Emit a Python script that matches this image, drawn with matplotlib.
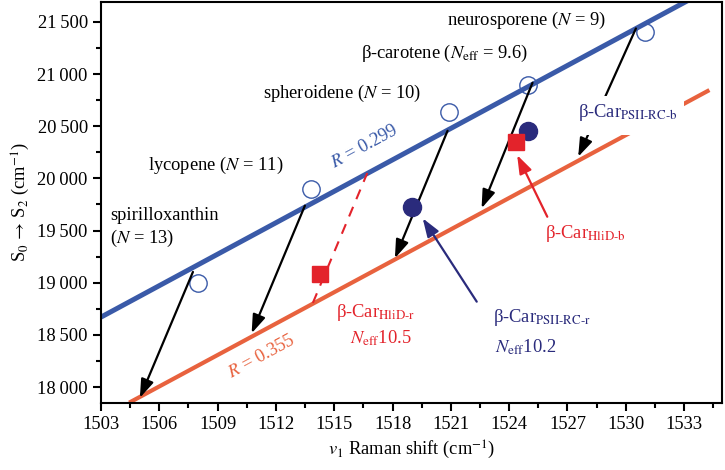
import matplotlib
matplotlib.use("Agg")
import matplotlib.pyplot as plt
from matplotlib.ticker import MultipleLocator, FuncFormatter
from matplotlib.patches import Rectangle

plt.rcParams['font.family'] = ['Liberation Serif', 'DejaVu Serif']
plt.rcParams['mathtext.fontset'] = 'stix'

# ---- data ----
open_x = [1507.99, 1513.79, 1520.92, 1524.98, 1530.98]
open_y = [18996, 19895, 20638, 20894, 21404]
navy_x = [1518.98, 1524.98]
navy_y = [19722, 20453]
sq_x = [1514.27, 1524.35]
sq_y = [19080, 20351]
blue_fit_x = [1503.0, 1533.3]
blue_fit_y = [18670, 21715]
orange_fit_x = [1504.45, 1534.3]
orange_fit_y = [17850, 20846]
dash_x = [1513.9, 1516.7]
dash_y = [18806, 20051]
arrow_tail_x = [1507.73, 1513.49, 1520.83, 1525.2, 1530.52]
arrow_tail_y = [19103, 19738, 20456, 20916, 21437]
arrow_tip_x = [1505.0, 1510.75, 1518.12, 1522.58, 1527.55]
arrow_tip_y = [17896, 18515, 19234, 19713, 20207]
xticks = [1503, 1506, 1509, 1512, 1515, 1518, 1521, 1524, 1527, 1530, 1533]
yticks = [18000, 18500, 19000, 19500, 20000, 20500, 21000, 21500]

BLUE = '#3a5aa8'
ORANGE = '#e8623e'
RED = '#e3232b'
NAVY = '#2a2b7c'

fig = plt.figure(figsize=(7.25, 4.7), dpi=100)
ax = fig.add_axes([0.1393, 0.1426, 0.8566, 0.8531])
ax.set_xlim(1503, 1534.95)
ax.set_ylim(17847, 21690)

ax.plot(blue_fit_x, blue_fit_y, color=BLUE, lw=3.6, solid_capstyle='butt', zorder=2)
ax.plot(orange_fit_x, orange_fit_y, color=ORANGE, lw=3.0, solid_capstyle='butt', zorder=2)
ax.plot(dash_x, dash_y, color=RED, lw=1.5, ls=(0, (5, 4)), zorder=2)

ax.plot(open_x, open_y, 'o', ms=12.5, mfc='none', mec=BLUE, mew=1.0, zorder=3)
ax.plot(navy_x, navy_y, 'o', ms=13, color=NAVY, zorder=4)
ax.plot(sq_x, sq_y, 's', ms=11, color=RED, zorder=4)

astyle = '-|>,head_length=0.8,head_width=0.28'
for tx, ty, hx, hy in zip(arrow_tail_x, arrow_tail_y, arrow_tip_x, arrow_tip_y):
    ax.annotate('', xy=(hx, hy), xytext=(tx, ty),
                arrowprops=dict(arrowstyle=astyle, color='black', lw=1.6,
                                shrinkA=0, shrinkB=0, mutation_scale=14), zorder=3)

# coloured arrows
ax.annotate('', xy=(1519.55, 19617), xytext=(1522.33, 18818),
            arrowprops=dict(arrowstyle=astyle, color=NAVY, lw=1.6,
                            shrinkA=0, shrinkB=0, mutation_scale=14), zorder=3)
ax.annotate('', xy=(1524.41, 20223), xytext=(1525.96, 19632),
            arrowprops=dict(arrowstyle=astyle, color=RED, lw=1.6,
                            shrinkA=0, shrinkB=0, mutation_scale=14), zorder=3)

fs = 13.3
ax.text(1520.8, 21516, r'neurosporene ($N$ = 9)', fontsize=fs, va='center', ha='left')
ax.text(1516.37, 21200, r'β-carotene ($N_{\mathrm{eff}}$ = 9.6)', fontsize=fs, va='center', ha='left')
ax.text(1511.33, 20817, r'spheroidene ($N$ = 10)', fontsize=fs, va='center', ha='left')
ax.text(1505.42, 20127, r'lycopene ($N$ = 11)', fontsize=fs, va='center', ha='left')
ax.text(1503.46, 19648, 'spirilloxanthin', fontsize=fs, va='center', ha='left')
ax.text(1503.46, 19428, r'($N$ = 13)', fontsize=fs, va='center', ha='left')

# white knock-out box behind the PSII-RC-b label (hides arrow shaft and orange line)
ax.add_patch(Rectangle((0.768, 0.669), 0.171, 0.097, transform=ax.transAxes,
                       facecolor='white', edgecolor='none', zorder=5))
ax.text(1527.54, 20634, r'β-Car$_{\text{PSII-RC-b}}$', fontsize=fs, color=NAVY,
        va='center', ha='left', zorder=6)
ax.text(1525.84, 19475, r'β-Car$_{\text{HliD-b}}$', fontsize=fs, color=RED, va='center', ha='left')
ax.text(1515.09, 18710, r'β-Car$_{\text{HliD-r}}$', fontsize=fs, color=RED, va='center', ha='left')
ax.text(1515.81, 18470, r'$N_{\mathrm{eff}}$10.5', fontsize=fs, color=RED, va='center', ha='left')
ax.text(1523.16, 18671, r'β-Car$_{\text{PSII-RC-r}}$', fontsize=fs, color=NAVY, va='center', ha='left')
ax.text(1523.27, 18384, r'$N_{\mathrm{eff}}$10.2', fontsize=fs, color=NAVY, va='center', ha='left')

ax.text(1516.58, 20300, r'$R$ = 0.299', fontsize=fs, color=BLUE, rotation=28.4,
        rotation_mode='anchor', ha='center', va='center')
ax.text(1511.28, 18288, r'$R$ = 0.355', fontsize=fs, color=ORANGE, rotation=28.4,
        rotation_mode='anchor', ha='center', va='center')

ax.set_xticks(xticks)
ax.set_yticks(yticks)
ax.xaxis.set_minor_locator(MultipleLocator(1.5))
ax.yaxis.set_minor_locator(MultipleLocator(250))
ax.yaxis.set_major_formatter(FuncFormatter(lambda v, p: f'{int(v):,}'.replace(',', '\u2009')))
ax.tick_params(which='both', direction='out', top=False, right=False, labelsize=13.3, width=1.5)
ax.tick_params(which='major', length=6)
ax.tick_params(which='minor', length=3.5)
for s in ax.spines.values():
    s.set_linewidth(1.5)

ax.set_xlabel(r'$v_1$ Raman shift (cm$^{-1}$)', fontsize=fs, labelpad=4)
ax.set_ylabel(r'S$_0$$\,\rightarrow\,$S$_2$ (cm$^{-1}$)', fontsize=fs, labelpad=4)

fig.savefig('out.png', dpi=100)
